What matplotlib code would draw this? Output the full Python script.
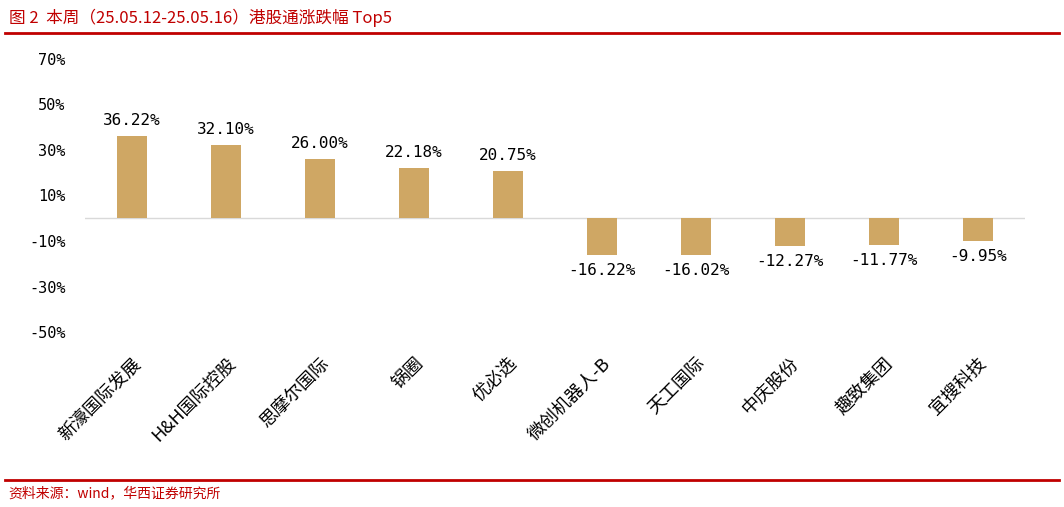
import matplotlib
matplotlib.use("Agg")
import matplotlib.pyplot as plt

plt.rcParams['font.family'] = ['Noto Sans CJK SC', 'DejaVu Sans']

names = ["新濠国际发展", "H&H国际控股", "思摩尔国际", "锅圈", "优必选",
         "微创机器人-B", "天工国际", "中庆股份", "趣致集团", "宜搜科技"]
values = [36.22, 32.10, 26.00, 22.18, 20.75, -16.22, -16.02, -12.27, -11.77, -9.95]
yticks = [70, 50, 30, 10, -10, -30, -50]

fig = plt.figure(figsize=(10.64, 5.07), dpi=100)
ax = fig.add_axes([0.08, 0.345, 0.883, 0.539])
x = list(range(len(names)))
ax.bar(x, values, width=0.32, color="#CFA764", zorder=3)
ax.axhline(0, color="#D9D9D9", lw=1, zorder=2)
ax.set_ylim(-50, 70)
ax.set_xlim(-0.5, len(names) - 0.5)
ax.set_yticks(yticks)
ax.set_yticklabels([f"{v}%" for v in yticks], fontsize=11, family=['DejaVu Sans Mono'])
ax.tick_params(axis='y', length=0, pad=14)
ax.set_xticks(x)
ax.set_xticklabels(names, rotation=45, ha='right', rotation_mode='anchor', fontsize=13)
ax.tick_params(axis='x', length=0, pad=16)
for s in ax.spines.values():
    s.set_visible(False)
for xi, v in zip(x, values):
    off = 3.5 if v > 0 else -3.5
    ax.text(xi, v + off, f"{v:.2f}%", ha='center', va='bottom' if v > 0 else 'top',
            fontsize=11.5, family=['DejaVu Sans Mono'])

fig.text(0.008, 0.965, "图 2  本周（25.05.12-25.05.16）港股通涨跌幅 Top5", fontsize=12,
         color="#C00000", va='center')
fig.add_artist(plt.Line2D([0.005, 0.995], [0.934, 0.934], color="#C00000", lw=2))
fig.add_artist(plt.Line2D([0.005, 0.995], [0.053, 0.053], color="#C00000", lw=2))
fig.text(0.008, 0.027, "资料来源：wind，华西证券研究所", fontsize=10, color="#C00000", va='center')
fig.savefig("out.png", dpi=100)
